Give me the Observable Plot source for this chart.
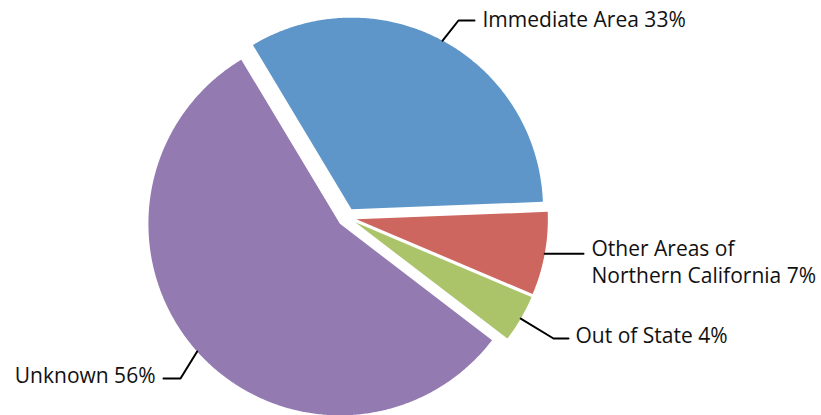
<!DOCTYPE html>
<html>
<head>
<meta charset="utf-8">
<script src="https://cdn.jsdelivr.net/npm/d3@7"></script>
<script src="https://cdn.jsdelivr.net/npm/@observablehq/plot@0.6"></script>
<style>
  html, body { margin: 0; padding: 0; background: #ffffff; overflow: hidden; }
  #chart svg { display: block; }
</style>
</head>
<body>
<div id="chart"></div>
<script>
// ---- data ----
const categories = ["Immediate Area", "Other Areas of Northern California", "Out of State", "Unknown"];
const shares = [33, 7, 4, 56];
const labelLines = [
  ["Immediate Area 33%"],
  ["Other Areas of", "Northern California 7%"],
  ["Out of State 4%"],
  ["Unknown 56%"]
];
const colors = ["#5f96c9", "#cd665e", "#abc46a", "#937bb1"];

// ---- layout (pixels) ----
const W = 821, H = 415;
const cx = 346.5, cy = 217;      // pie centre
const R = 191.5;                 // radius
const explode = 9.5;             // slice offset along bisector
const startDeg = -31;            // first slice starts here (clockwise from 12 o'clock)
const fontSize = 21;
const fontFamily = "'Open Sans', 'Noto Sans', sans-serif";
// leader elbows / ends and text positions (pixel) per category
const leaderLayout = [
  [{x: 458, y: 20}, {x: 474, y: 20}],
  [{x: 583, y: null}],
  [{x: 553, y: 338}, {x: 568, y: 338}],
  [{x: 180, y: 378}, {x: 163, y: 378}]
];
const textLayout = [
  {x: 482, baselines: [26], anchor: "start"},
  {x: 591, baselines: [255, 282], anchor: "start"},
  {x: 575, baselines: [342], anchor: "start"},
  {x: 155, baselines: [382], anchor: "end"}
];

// ---- derived geometry ----
const rows = categories.map((name, i) => ({name, value: shares[i], color: colors[i], i}));
const arcs = d3.pie().sort(null).value(d => d.value)
  .startAngle(startDeg * Math.PI / 180)
  .endAngle(startDeg * Math.PI / 180 + 2 * Math.PI)(rows);

const slicePts = [];
const leaderPts = [];
const textRows = [];
arcs.forEach(a => {
  const mid = (a.startAngle + a.endAngle) / 2;
  const ox = cx + explode * Math.sin(mid);
  const oy = cy - explode * Math.cos(mid);
  const name = a.data.name, color = a.data.color;
  slicePts.push({name, color, x: ox, y: oy});
  const n = Math.max(4, Math.ceil((a.endAngle - a.startAngle) / (Math.PI / 360)));
  for (let k = 0; k <= n; ++k) {
    const t = a.startAngle + (a.endAngle - a.startAngle) * k / n;
    slicePts.push({name, color, x: ox + R * Math.sin(t), y: oy - R * Math.cos(t)});
  }
  slicePts.push({name, color, x: ox, y: oy});

  // leader line from the slice edge at its bisector
  const sx = ox + R * Math.sin(mid), sy = oy - R * Math.cos(mid);
  leaderPts.push({name, x: sx, y: sy});
  leaderLayout[a.data.i].forEach(p => leaderPts.push({name, x: p.x, y: p.y == null ? sy : p.y}));

  const tl = textLayout[a.data.i];
  labelLines[a.data.i].forEach((line, j) => {
    textRows.push({text: line, x: tl.x, y: tl.baselines[j], anchor: tl.anchor});
  });
});

const chart = Plot.plot({
  width: W,
  height: H,
  margin: 0,
  x: {domain: [0, W], range: [0, W], axis: null},
  y: {domain: [0, H], range: [0, H], axis: null},
  marks: [
    Plot.line(slicePts, {x: "x", y: "y", z: "name", fill: "color", stroke: "none", curve: "linear"}),
    Plot.line(leaderPts, {x: "x", y: "y", z: "name", stroke: "#000", strokeWidth: 2, curve: "linear"}),
    Plot.text(textRows.filter(d => d.anchor === "start"), {
      x: "x", y: "y", text: "text", textAnchor: "start", lineAnchor: "bottom",
      fontSize, fontFamily, fill: "#111"
    }),
    Plot.text(textRows.filter(d => d.anchor === "end"), {
      x: "x", y: "y", text: "text", textAnchor: "end", lineAnchor: "bottom",
      fontSize, fontFamily, fill: "#111"
    })
  ]
});
document.getElementById("chart").appendChild(chart);
</script>
</body>
</html>
